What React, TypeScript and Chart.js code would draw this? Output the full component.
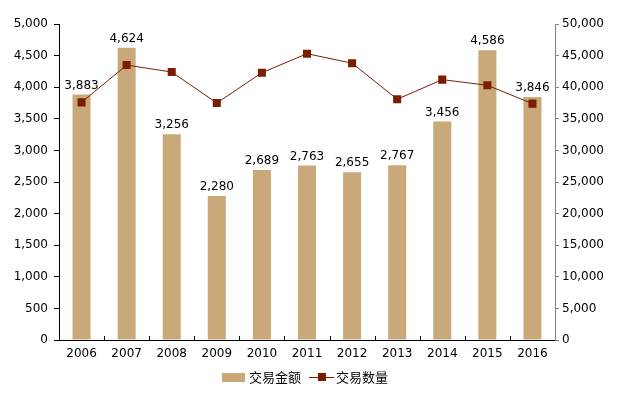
import React, { useEffect, useRef } from "react";
import { Chart, registerables } from "chart.js";

Chart.register(...registerables);

const years = ["2006", "2007", "2008", "2009", "2010", "2011", "2012", "2013", "2014", "2015", "2016"];
const amountValues = [3883, 4624, 3256, 2280, 2689, 2763, 2655, 2767, 3456, 4586, 3846];
const countValues = [37600, 43500, 42400, 37500, 42300, 45300, 43800, 38100, 41200, 40300, 37400];
const amountLabel = "交易金额";
const countLabel = "交易数量";

const BAR_COLOR = "#C9A97A";
const LINE_COLOR = "#7A1E00";
const FONT = "'DejaVu Sans', 'Noto Sans CJK SC', sans-serif";
const CJK_FONT = "'Noto Sans CJK SC', sans-serif";

const fmt = (v: number) => v.toLocaleString("en-US");

const overlayPlugin = {
  id: "overlay",
  afterDatasetsDraw(chart: any) {
    const ctx = chart.ctx;
    const meta = chart.getDatasetMeta(1);
    ctx.save();
    ctx.font = "12px " + FONT;
    ctx.fillStyle = "#000";
    ctx.textAlign = "center";
    ctx.textBaseline = "bottom";
    meta.data.forEach((bar: any, i: number) => {
      ctx.fillText(fmt(amountValues[i]), bar.x, bar.y - 3);
    });
    ctx.restore();
  },
  afterDraw(chart: any) {
    const ctx = chart.ctx;
    const x = chart.scales.x;
    const area = chart.chartArea;
    ctx.save();
    ctx.strokeStyle = "#000";
    ctx.lineWidth = 1;
    for (let i = 1; i < years.length; i++) {
      const px = Math.round((x.getPixelForValue(i - 1) + x.getPixelForValue(i)) / 2) + 0.5;
      ctx.beginPath();
      ctx.moveTo(px, area.bottom);
      ctx.lineTo(px, area.bottom - 4);
      ctx.stroke();
    }
    const cy = 377;
    ctx.fillStyle = BAR_COLOR;
    ctx.fillRect(222, 373, 23, 9);
    ctx.font = "13px " + CJK_FONT;
    ctx.fillStyle = "#000";
    ctx.textBaseline = "middle";
    ctx.textAlign = "left";
    ctx.fillText(amountLabel, 249, cy);
    ctx.strokeStyle = LINE_COLOR;
    ctx.beginPath();
    ctx.moveTo(309, cy + 0.5);
    ctx.lineTo(334, cy + 0.5);
    ctx.stroke();
    ctx.fillStyle = LINE_COLOR;
    ctx.fillRect(318, cy - 4, 8, 8);
    ctx.fillStyle = "#000";
    ctx.fillText(countLabel, 336, cy);
    ctx.restore();
  },
};

export default function App() {
  const ref = useRef<HTMLCanvasElement>(null);
  useEffect(() => {
    const chart = new Chart(ref.current as HTMLCanvasElement, {
      data: {
        labels: years,
        datasets: [
          {
            type: "line",
            label: countLabel,
            data: countValues,
            yAxisID: "y1",
            borderColor: LINE_COLOR,
            backgroundColor: LINE_COLOR,
            borderWidth: 1,
            pointStyle: "rect",
            pointRadius: 5.7,
            pointBorderWidth: 0,
            tension: 0,
            order: 0,
          },
          {
            type: "bar",
            label: amountLabel,
            data: amountValues,
            yAxisID: "y",
            backgroundColor: BAR_COLOR,
            barPercentage: 0.4,
            categoryPercentage: 1,
            order: 1,
          },
        ] as any,
      },
      options: {
        animation: false,
        responsive: false,
        maintainAspectRatio: false,
        layout: { padding: { top: 24, left: 0, right: 0, bottom: 0 } },
        plugins: { legend: { display: false }, tooltip: { enabled: false } },
        scales: {
          x: {
            offset: true,
            grid: { display: false, drawTicks: false },
            border: { display: true, color: "#000", width: 1 },
            ticks: { color: "#000", font: { size: 12, family: FONT }, padding: 7, maxRotation: 0 },
            afterFit: (s: any) => { s.height = 56; },
          },
          y: {
            position: "left",
            min: 0,
            max: 5000,
            ticks: { stepSize: 500, color: "#000", font: { size: 12, family: FONT }, padding: 6, callback: (v: any) => fmt(Number(v)) },
            grid: { drawOnChartArea: false, drawTicks: true, tickLength: 5, color: "#000" },
            border: { display: true, color: "#000", width: 1 },
            afterFit: (s: any) => { s.width = 59; },
          },
          y1: {
            position: "right",
            min: 0,
            max: 50000,
            ticks: { stepSize: 5000, color: "#000", font: { size: 12, family: FONT }, padding: 3, callback: (v: any) => fmt(Number(v)) },
            grid: { drawOnChartArea: false, drawTicks: true, tickLength: 4, color: "#808080" },
            border: { display: true, color: "#808080", width: 1 },
            afterFit: (s: any) => { s.width = 64; },
          },
        },
      } as any,
      plugins: [overlayPlugin],
    });
    return () => chart.destroy();
  }, []);
  return (
    <div style={{ position: "absolute", left: 0, top: 0, width: 619, height: 396, background: "#fff" }}>
      <canvas ref={ref} width={619} height={396} style={{ width: 619, height: 396 }} />
    </div>
  );
}
